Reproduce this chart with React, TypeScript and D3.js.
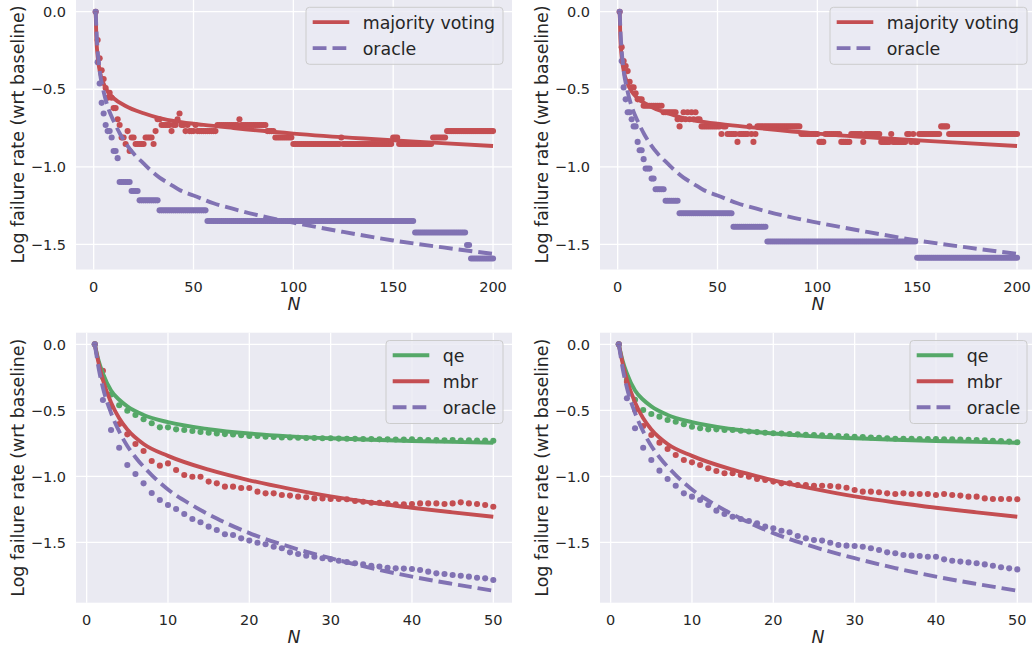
import React from "react";
import * as d3 from "d3";

type Run = [number, number, number];
type Pt = [number, number];

// ---------------- ticks & labels ----------------
const topXTicks = [0, 50, 100, 150, 200];
const bottomXTicks = [0, 10, 20, 30, 40, 50];
const yTicks = [0, -0.5, -1.0, -1.5];
const yLabel = "Log failure rate (wrt baseline)";
const xLabel = "N";
const topLegendLabels = ["majority voting", "oracle"];
const bottomLegendLabels = ["qe", "mbr", "oracle"];

// ---------------- top row: failure counts per N as runs [firstN, lastN, count] ----------------
// plotted value = ln(count / baseline)
const topLeftBaseline = 54;
const topLeftMajorityRuns: Run[] = [
  [1, 1, 54], [2, 2, 45], [3, 3, 40], [4, 4, 37], [5, 5, 35], [6, 6, 33], [7, 7, 31], [8, 8, 32],
  [9, 9, 31], [10, 11, 29], [12, 12, 27], [13, 13, 26], [14, 15, 24], [16, 16, 23], [17, 17, 25],
  [18, 18, 22], [19, 20, 24], [21, 25, 23], [26, 29, 24], [30, 30, 23], [31, 31, 25], [32, 33, 27],
  [34, 38, 26], [39, 39, 25], [40, 41, 26], [42, 42, 27], [43, 43, 28], [44, 45, 26], [46, 46, 25],
  [47, 47, 26], [48, 50, 25], [51, 51, 26], [52, 61, 25], [62, 72, 26], [73, 73, 27], [74, 86, 26],
  [87, 90, 25], [91, 99, 24], [100, 123, 23], [124, 124, 24], [125, 149, 23], [150, 152, 24],
  [153, 169, 23], [170, 176, 24], [177, 200, 25],
];
const topLeftOracleRuns: Run[] = [
  [1, 1, 54], [2, 2, 39], [3, 3, 34], [4, 4, 30], [5, 5, 28], [6, 6, 26], [7, 8, 25], [9, 9, 24],
  [10, 11, 22], [12, 12, 21], [13, 18, 18], [19, 22, 17], [23, 32, 16], [33, 56, 15], [57, 160, 14],
  [161, 186, 13], [187, 188, 12], [189, 200, 11],
];
const topRightBaseline = 44;
const topRightMajorityRuns: Run[] = [
  [1, 1, 44], [2, 2, 35], [3, 3, 32], [4, 4, 31], [5, 5, 30], [6, 6, 28], [7, 8, 27], [9, 9, 26],
  [10, 12, 25], [13, 22, 24], [23, 29, 23], [30, 30, 22], [31, 31, 21], [32, 32, 22], [33, 33, 23],
  [34, 34, 22], [35, 35, 23], [36, 36, 22], [37, 37, 23], [38, 38, 22], [39, 39, 23], [40, 41, 22],
  [42, 51, 21], [52, 52, 20], [53, 54, 21], [55, 59, 20], [60, 60, 19], [61, 65, 20], [66, 66, 21],
  [67, 67, 20], [68, 68, 19], [69, 69, 20], [70, 91, 21], [92, 100, 20], [101, 103, 19], [104, 111, 20],
  [112, 116, 19], [117, 122, 20], [123, 123, 19], [124, 131, 20], [132, 136, 19], [137, 137, 20],
  [138, 144, 19], [145, 146, 20], [147, 147, 19], [148, 148, 20], [149, 150, 19], [151, 161, 20],
  [162, 165, 21], [166, 200, 20],
];
const topRightOracleRuns: Run[] = [
  [1, 1, 44], [2, 2, 32], [3, 3, 27], [4, 4, 25], [5, 6, 23], [7, 7, 22], [8, 9, 21], [10, 10, 19],
  [11, 12, 18], [13, 13, 17], [14, 16, 16], [17, 18, 15], [19, 23, 14], [24, 30, 13], [31, 57, 12],
  [58, 74, 11], [75, 149, 10], [150, 200, 9],
];

// fitted curves of the top row, read at sample N: [N, value]
const topMajorityFit: Pt[] = [
  [1, 0], [1.3, -0.15], [2, -0.29], [3, -0.38], [5, -0.465], [7, -0.515], [10, -0.558], [16, -0.608],
  [25, -0.655], [33, -0.686], [42, -0.709], [55, -0.73], [70, -0.75], [100, -0.786], [135, -0.818],
  [170, -0.844], [200, -0.866],
];
const topOracleFit: Pt[] = [
  [1, 0], [1.5, -0.15], [2, -0.25], [3, -0.38], [4.7, -0.5], [7.5, -0.63], [10, -0.705],
  [13.3, -0.79], [16.4, -0.855], [20, -0.915], [24.7, -0.975], [28.3, -1.02], [33, -1.07],
  [38, -1.11], [43, -1.15], [50, -1.185], [60, -1.235], [70, -1.272], [85, -1.32], [100, -1.36],
  [125, -1.42], [150, -1.475], [175, -1.52], [200, -1.562],
];

// ---------------- bottom row: values at N = 1..50 ----------------
const bottomN = d3.range(1, 51);
const bottomLeftQe = [
  0, -0.25, -0.38, -0.462, -0.503, -0.535, -0.568, -0.598, -0.629, -0.629,
  -0.644, -0.649, -0.657, -0.664, -0.67, -0.675, -0.68, -0.683, -0.688, -0.694,
  -0.695, -0.7, -0.702, -0.705, -0.706, -0.708, -0.71, -0.71, -0.712, -0.712,
  -0.714, -0.715, -0.716, -0.717, -0.718, -0.72, -0.72, -0.721, -0.722, -0.72,
  -0.724, -0.725, -0.726, -0.727, -0.726, -0.728, -0.727, -0.729, -0.728, -0.73,
];
const bottomLeftMbr = [
  0, -0.2, -0.47, -0.604, -0.682, -0.755, -0.808, -0.884, -0.919, -0.902,
  -0.952, -0.99, -1.003, -1.003, -1.04, -1.053, -1.078, -1.078, -1.088, -1.088,
  -1.116, -1.129, -1.129, -1.141, -1.146, -1.154, -1.159, -1.167, -1.167, -1.172,
  -1.172, -1.174, -1.187, -1.192, -1.2, -1.2, -1.205, -1.212, -1.212, -1.21,
  -1.205, -1.205, -1.205, -1.21, -1.205, -1.197, -1.205, -1.21, -1.217, -1.23,
];
const bottomLeftOracle = [
  0, -0.422, -0.649, -0.783, -0.914, -0.982, -1.053, -1.126, -1.179, -1.217,
  -1.247, -1.285, -1.323, -1.348, -1.381, -1.407, -1.439, -1.444, -1.47, -1.487,
  -1.503, -1.515, -1.533, -1.545, -1.576, -1.588, -1.601, -1.609, -1.621, -1.629,
  -1.639, -1.649, -1.659, -1.667, -1.677, -1.684, -1.692, -1.697, -1.699, -1.702,
  -1.71, -1.722, -1.735, -1.74, -1.747, -1.753, -1.76, -1.768, -1.773, -1.785,
];
const bottomRightQe = [
  0, -0.27, -0.42, -0.497, -0.528, -0.548, -0.573, -0.586, -0.606, -0.624,
  -0.636, -0.644, -0.644, -0.649, -0.649, -0.655, -0.66, -0.665, -0.67, -0.674,
  -0.676, -0.679, -0.682, -0.685, -0.687, -0.69, -0.692, -0.695, -0.697, -0.7,
  -0.703, -0.706, -0.709, -0.712, -0.715, -0.716, -0.716, -0.717, -0.717, -0.717,
  -0.719, -0.72, -0.721, -0.723, -0.725, -0.727, -0.73, -0.733, -0.737, -0.742,
];
const bottomRightMbr = [
  0, -0.283, -0.497, -0.619, -0.687, -0.745, -0.793, -0.838, -0.876, -0.894,
  -0.914, -0.939, -0.96, -0.977, -0.977, -0.99, -1.003, -1.02, -1.028, -1.04,
  -1.053, -1.053, -1.066, -1.066, -1.071, -1.071, -1.073, -1.078, -1.086, -1.104,
  -1.116, -1.116, -1.121, -1.129, -1.134, -1.129, -1.134, -1.134, -1.134, -1.141,
  -1.134, -1.141, -1.146, -1.154, -1.154, -1.167, -1.172, -1.172, -1.172, -1.174,
];
const bottomRightOracle = [
  0, -0.409, -0.636, -0.783, -0.876, -0.957, -1.02, -1.071, -1.129, -1.154,
  -1.179, -1.217, -1.26, -1.285, -1.306, -1.323, -1.338, -1.356, -1.381, -1.394,
  -1.412, -1.424, -1.452, -1.47, -1.482, -1.487, -1.503, -1.52, -1.525, -1.528,
  -1.533, -1.545, -1.558, -1.576, -1.583, -1.596, -1.601, -1.604, -1.609, -1.609,
  -1.629, -1.639, -1.646, -1.652, -1.659, -1.667, -1.677, -1.689, -1.697, -1.705,
];

// fitted curves of the bottom row: [N, value]
const bottomQeFit: Pt[] = [
  [1, 0], [1.5, -0.13], [2, -0.22], [3, -0.35], [4, -0.42], [5, -0.47], [7, -0.535], [10, -0.59],
  [15, -0.643], [20, -0.676], [25, -0.697], [30, -0.712], [35, -0.723], [40, -0.732], [45, -0.739],
  [50, -0.746],
];
const bottomMbrFit: Pt[] = [
  [1, 0], [1.5, -0.15], [2, -0.27], [3, -0.44], [4, -0.56], [5, -0.645], [7, -0.755], [10, -0.845],
  [15, -0.95], [20, -1.03], [25, -1.095], [30, -1.152], [35, -1.198], [40, -1.238], [45, -1.273],
  [50, -1.306],
];
const bottomOracleFit: Pt[] = [
  [1, 0], [1.5, -0.19], [2, -0.33], [3, -0.52], [4, -0.66], [5, -0.77], [6, -0.855], [8, -0.99],
  [10, -1.1], [13, -1.22], [16, -1.32], [20, -1.43], [25, -1.535], [30, -1.62], [35, -1.695],
  [40, -1.76], [45, -1.815], [50, -1.866],
];

// ---------------- styling ----------------
const RED = "#C44E52";
const PURPLE = "#8172B3";
const GREEN = "#55A868";
const TEXT = "#262626";
const FONT = "DejaVu Sans, sans-serif";

const expandRuns = (runs: Run[], baseline: number): Pt[] =>
  runs.flatMap(([a, b, k]) => d3.range(a, b + 1).map((n) => [n, Math.log(k / baseline)] as Pt));
const zipN = (vals: number[]): Pt[] => bottomN.map((n, i) => [n, vals[i]] as Pt);

interface Series {
  pts: Pt[];
  color: string;
}
interface FitSeries {
  pts: Pt[];
  color: string;
  dashed: boolean;
}
interface LegendEntry {
  label: string;
  color: string;
  dashed: boolean;
}

const PW = 436;
const PH = 270;

function Panel(props: {
  id: string;
  x0: number;
  y0: number;
  xDomain: [number, number];
  yDomain: [number, number];
  xTicks: number[];
  scatters: Series[];
  fits: FitSeries[];
  legend: LegendEntry[];
  legendWidth: number;
}) {
  const { id, x0, y0, xDomain, yDomain, xTicks, scatters, fits, legend, legendWidth } = props;
  const x = d3.scaleLinear().domain(xDomain).range([x0, x0 + PW]);
  const y = d3.scaleLinear().domain(yDomain).range([y0 + PH, y0]);
  const line = d3
    .line<Pt>()
    .x((d) => x(d[0]))
    .y((d) => y(d[1]))
    .curve(d3.curveMonotoneX);
  const fmt = d3.format(".1f");
  const lw = 3.9;
  const dash = "13.8 6";
  const lx1 = x0 + PW - 9;
  const lx0 = lx1 - legendWidth;
  const ly0 = y0 + 7.8;
  const rowH = 26;
  const lh = legend.length * rowH + 5;
  return (
    <g>
      <defs>
        <clipPath id={id}>
          <rect x={x0} y={y0} width={PW} height={PH} />
        </clipPath>
      </defs>
      <rect x={x0} y={y0} width={PW} height={PH} fill="#EAEAF2" />
      {xTicks.map((t) => (
        <line key={"gx" + t} x1={x(t)} x2={x(t)} y1={y0} y2={y0 + PH} stroke="#fff" strokeWidth={1.3} />
      ))}
      {yTicks.map((t) => (
        <line key={"gy" + t} x1={x0} x2={x0 + PW} y1={y(t)} y2={y(t)} stroke="#fff" strokeWidth={1.3} />
      ))}
      <g clipPath={`url(#${id})`}>
        {scatters.map((s, si) => (
          <g key={"s" + si} fill={s.color}>
            {s.pts.map((p, i) => (
              <circle key={i} cx={x(p[0])} cy={y(p[1])} r={3.05} />
            ))}
          </g>
        ))}
        {fits.map((f, fi) => (
          <path
            key={"f" + fi}
            d={line(f.pts) || ""}
            fill="none"
            stroke={f.color}
            strokeWidth={lw}
            strokeDasharray={f.dashed ? dash : undefined}
            strokeLinecap="butt"
          />
        ))}
      </g>
      {/* tick labels */}
      <g fontFamily={FONT} fontSize={14.5} fill={TEXT}>
        {yTicks.map((t) => (
          <text key={"ty" + t} x={x0 - 10} y={y(t)} dy="0.36em" textAnchor="end">
            {fmt(t)}
          </text>
        ))}
        {xTicks.map((t) => (
          <text key={"tx" + t} x={x(t)} y={y0 + PH + 22.5} textAnchor="middle">
            {t}
          </text>
        ))}
      </g>
      <text
        x={x0 + PW / 2}
        y={y0 + PH + 40.5}
        textAnchor="middle"
        fontFamily={FONT}
        fontStyle="italic"
        fontSize={17.4}
        fill={TEXT}
      >
        {xLabel}
      </text>
      <text
        transform={`translate(${x0 - 52.5},${y0 + PH / 2}) rotate(-90)`}
        textAnchor="middle"
        fontFamily={FONT}
        fontSize={17.4}
        fill={TEXT}
      >
        {yLabel}
      </text>
      {/* legend */}
      <g>
        <rect
          x={lx0}
          y={ly0}
          width={legendWidth}
          height={lh}
          rx={3.5}
          fill="#EAEAF2"
          fillOpacity={0.8}
          stroke="#CCCCCC"
          strokeWidth={1}
        />
        {legend.map((e, i) => {
          const ry = ly0 + 14.8 + i * rowH;
          return (
            <g key={"l" + i}>
              <line
                x1={lx0 + 6.7}
                x2={lx0 + 43.3}
                y1={ry}
                y2={ry}
                stroke={e.color}
                strokeWidth={lw}
                strokeDasharray={e.dashed ? dash : undefined}
              />
              <text x={lx0 + 56.7} y={ry + 6.6} fontFamily={FONT} fontSize={17.4} fill={TEXT}>
                {e.label}
              </text>
            </g>
          );
        })}
      </g>
    </g>
  );
}

export default function App() {
  const topY: [number, number] = [-1.6623, 0.0785];
  const bottomY: [number, number] = [-1.9573, 0.0881];
  const topX: [number, number] = [-8.85, 209.5];
  const bottomX: [number, number] = [-1.31, 52.3];
  const topLegend: LegendEntry[] = [
    { label: topLegendLabels[0], color: RED, dashed: false },
    { label: topLegendLabels[1], color: PURPLE, dashed: true },
  ];
  const bottomLegend: LegendEntry[] = [
    { label: bottomLegendLabels[0], color: GREEN, dashed: false },
    { label: bottomLegendLabels[1], color: RED, dashed: false },
    { label: bottomLegendLabels[2], color: PURPLE, dashed: true },
  ];
  const topFits: FitSeries[] = [
    { pts: topMajorityFit, color: RED, dashed: false },
    { pts: topOracleFit, color: PURPLE, dashed: true },
  ];
  const bottomFits: FitSeries[] = [
    { pts: bottomQeFit, color: GREEN, dashed: false },
    { pts: bottomMbrFit, color: RED, dashed: false },
    { pts: bottomOracleFit, color: PURPLE, dashed: true },
  ];
  return (
    <svg
      width={1032}
      height={647}
      viewBox="0 0 1032 647"
      style={{ position: "absolute", left: 0, top: 0, background: "#fff" }}
    >
      <rect x={0} y={0} width={1032} height={647} fill="#fff" />
      <Panel
        id="clipTL"
        x0={76}
        y0={-0.5}
        xDomain={topX}
        yDomain={topY}
        xTicks={topXTicks}
        scatters={[
          { pts: expandRuns(topLeftMajorityRuns, topLeftBaseline), color: RED },
          { pts: expandRuns(topLeftOracleRuns, topLeftBaseline), color: PURPLE },
        ]}
        fits={topFits}
        legend={topLegend}
        legendWidth={197}
      />
      <Panel
        id="clipTR"
        x0={600}
        y0={-0.5}
        xDomain={topX}
        yDomain={topY}
        xTicks={topXTicks}
        scatters={[
          { pts: expandRuns(topRightMajorityRuns, topRightBaseline), color: RED },
          { pts: expandRuns(topRightOracleRuns, topRightBaseline), color: PURPLE },
        ]}
        fits={topFits}
        legend={topLegend}
        legendWidth={197}
      />
      <Panel
        id="clipBL"
        x0={76}
        y0={332.7}
        xDomain={bottomX}
        yDomain={bottomY}
        xTicks={bottomXTicks}
        scatters={[
          { pts: zipN(bottomLeftQe), color: GREEN },
          { pts: zipN(bottomLeftMbr), color: RED },
          { pts: zipN(bottomLeftOracle), color: PURPLE },
        ]}
        fits={bottomFits}
        legend={bottomLegend}
        legendWidth={117}
      />
      <Panel
        id="clipBR"
        x0={600}
        y0={332.7}
        xDomain={bottomX}
        yDomain={bottomY}
        xTicks={bottomXTicks}
        scatters={[
          { pts: zipN(bottomRightQe), color: GREEN },
          { pts: zipN(bottomRightMbr), color: RED },
          { pts: zipN(bottomRightOracle), color: PURPLE },
        ]}
        fits={bottomFits}
        legend={bottomLegend}
        legendWidth={117}
      />
    </svg>
  );
}
